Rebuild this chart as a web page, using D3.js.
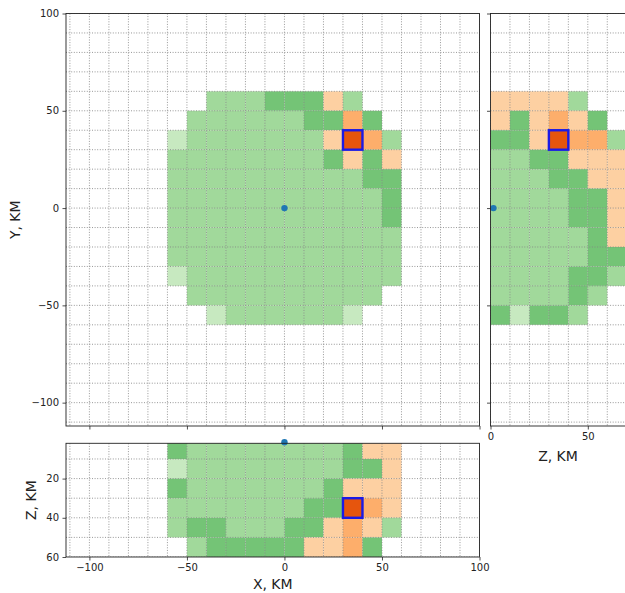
<!DOCTYPE html>
<html>
<head>
<meta charset="utf-8">
<script src="https://cdn.jsdelivr.net/npm/d3@7"></script>
<style>
    body { margin: 0; background: #fff; }
    text { font-family: 'DejaVu Sans', sans-serif; fill: #222; }
</style>
</head>
<body>
<div id="chart"></div>
<script>
// cell classes: 0 empty, 1 pale green, 2 green, 3 dark green, 4 light orange, 5 orange, 6 red orange
const levelColors = ['none', '#c7e9c0', '#a1d99b', '#74c476', '#fdd0a2', '#fdae6b', '#e6550d']

// XY plane, x columns -60..50 (step 10), rows y from 50 down to -60
const xyCols = [-60, -50, -40, -30, -20, -10, 0, 10, 20, 30, 40, 50]
const xyRowsY = [50, 40, 30, 20, 10, 0, -10, -20, -30, -40, -50, -60]
const xyCells = [
    [0, 0, 2, 2, 2, 3, 3, 3, 4, 2, 0, 0],
    [0, 2, 2, 2, 2, 2, 2, 3, 3, 5, 3, 0],
    [1, 2, 2, 2, 2, 2, 2, 2, 4, 6, 5, 2],
    [2, 2, 2, 2, 2, 2, 2, 2, 3, 4, 3, 4],
    [2, 2, 2, 2, 2, 2, 2, 2, 2, 2, 3, 3],
    [2, 2, 2, 2, 2, 2, 2, 2, 2, 2, 2, 3],
    [2, 2, 2, 2, 2, 2, 2, 2, 2, 2, 2, 3],
    [2, 2, 2, 2, 2, 2, 2, 2, 2, 2, 2, 2],
    [2, 2, 2, 2, 2, 2, 2, 2, 2, 2, 2, 2],
    [1, 2, 2, 2, 2, 2, 2, 2, 2, 2, 2, 2],
    [0, 2, 2, 2, 2, 2, 2, 2, 2, 2, 2, 0],
    [0, 0, 1, 2, 2, 2, 2, 2, 2, 1, 0, 0],
]

// ZY plane, z columns 0..60
const zyCols = [0, 10, 20, 30, 40, 50, 60]
const zyCells = [
    [4, 4, 4, 4, 2, 0, 0],
    [4, 3, 4, 5, 4, 3, 0],
    [3, 3, 4, 6, 5, 5, 2],
    [2, 2, 3, 3, 4, 4, 4],
    [2, 2, 2, 3, 3, 4, 4],
    [2, 2, 2, 2, 3, 3, 4],
    [2, 2, 2, 2, 3, 3, 4],
    [2, 2, 2, 2, 2, 3, 4],
    [2, 2, 2, 2, 2, 3, 3],
    [2, 2, 2, 2, 3, 3, 2],
    [2, 2, 2, 2, 3, 2, 0],
    [3, 1, 3, 3, 2, 0, 0],
]

// XZ plane, rows z 0..50
const xzRowsZ = [0, 10, 20, 30, 40, 50]
const xzCells = [
    [3, 2, 2, 2, 2, 2, 2, 2, 2, 3, 4, 4],
    [1, 2, 2, 2, 2, 2, 2, 2, 2, 3, 3, 4],
    [3, 2, 2, 2, 2, 2, 2, 2, 3, 4, 4, 4],
    [2, 2, 2, 2, 2, 2, 2, 3, 3, 6, 5, 4],
    [2, 3, 3, 2, 2, 2, 3, 3, 4, 5, 4, 2],
    [0, 2, 3, 3, 3, 3, 3, 4, 4, 5, 3, 0],
]

const cellSize = 10
const selected = { x: 30, y: 30, z: 30 }
const origin = { x: 0, y: 0, z: 1.5 }

const xTicks = [-100, -50, 0, 50, 100]
const yTicks = [-100, -50, 0, 50, 100]
const zTicksRight = [0, 50]
const zTicksBottom = [20, 40, 60]

const W = 625, H = 593

const svg = d3.select('#chart').append('svg')
    .attr('width', W).attr('height', H)

const x = d3.scaleLinear().domain([-112, 100]).range([66, 479.5])
const y = d3.scaleLinear().domain([100, -112]).range([13.5, 426])
const zR = d3.scaleLinear().domain([0, 70.5]).range([490.5, 627.7])
const zB = d3.scaleLinear().domain([2, 60]).range([443.3, 557])

const makeCells = (cells, cols, rows) => {
    const out = []
    cells.forEach((row, i) => row.forEach((v, j) => {
        if (v > 0) out.push({ c: cols[j], r: rows[i], v: v })
    }))
    return out
}

const panel = (id, sx, sy) => {
    const [x0, x1] = sx.range()
    const [ya, yb] = sy.range()
    const y0 = Math.min(ya, yb), y1 = Math.max(ya, yb)
    svg.append('clipPath').attr('id', id)
        .append('rect').attr('x', x0).attr('y', y0).attr('width', x1 - x0).attr('height', y1 - y0)
    const g = svg.append('g')
    const inner = g.append('g').attr('clip-path', 'url(#' + id + ')')
    return { g, inner, x0, x1, y0, y1 }
}

const drawCells = (p, data, sx, sy, flipY) => {
    p.inner.append('g').selectAll('rect').data(data).join('rect')
        .attr('x', d => sx(d.c))
        .attr('width', d => sx(d.c + cellSize) - sx(d.c))
        .attr('y', d => flipY ? sy(d.r + cellSize) : sy(d.r))
        .attr('height', d => Math.abs(sy(d.r + cellSize) - sy(d.r)))
        .attr('fill', d => levelColors[d.v])
}

const drawGrid = (p, sx, sy, xs, ys) => {
    const g = p.inner.append('g')
        .attr('stroke', '#858585').attr('stroke-width', 0.85)
        .attr('stroke-dasharray', '1,1.6')
    g.selectAll('.vx').data(xs).join('line')
        .attr('x1', d => sx(d)).attr('x2', d => sx(d))
        .attr('y1', p.y0).attr('y2', p.y1)
    g.selectAll('.hy').data(ys).join('line')
        .attr('y1', d => sy(d)).attr('y2', d => sy(d))
        .attr('x1', p.x0).attr('x2', p.x1)
}

const drawBox = (p) => {
    p.g.append('rect')
        .attr('x', p.x0).attr('y', p.y0)
        .attr('width', p.x1 - p.x0).attr('height', p.y1 - p.y0)
        .attr('fill', 'none').attr('stroke', '#222').attr('stroke-width', 0.9)
}

const drawSelected = (p, sx, sy, cx, cy, flipY) => {
    p.inner.append('rect')
        .attr('x', sx(cx)).attr('width', sx(cx + cellSize) - sx(cx))
        .attr('y', flipY ? sy(cy + cellSize) : sy(cy))
        .attr('height', Math.abs(sy(cy + cellSize) - sy(cy)))
        .attr('fill', 'none').attr('stroke', '#1a1ae6').attr('stroke-width', 2.4)
}

const axisStyle = (g, showLabels) => {
    g.select('.domain').remove()
    g.selectAll('.tick line').attr('stroke', '#222').attr('stroke-width', 0.8)
    g.selectAll('.tick text').style('font-size', '10px').attr('fill', '#222')
    if (!showLabels) g.selectAll('.tick text').remove()
}

const gridSteps = (a, b) => d3.range(a, b + 1, 10)

// XY panel
const p1 = panel('c1', x, y)
drawCells(p1, makeCells(xyCells, xyCols, xyRowsY), x, y, true)
drawGrid(p1, x, y, gridSteps(-110, 100), gridSteps(-110, 100))
drawSelected(p1, x, y, selected.x, selected.y, true)
p1.inner.append('circle').attr('cx', x(origin.x)).attr('cy', y(origin.y)).attr('r', 3.2).attr('fill', '#1f77b4')
drawBox(p1)
p1.g.append('g').attr('transform', 'translate(' + p1.x0 + ',0)')
    .call(d3.axisLeft(y).tickValues(yTicks).tickSize(3.5).tickPadding(3.5)).call(g => axisStyle(g, true))
p1.g.append('g').attr('transform', 'translate(0,' + p1.y1 + ')')
    .call(d3.axisBottom(x).tickValues(xTicks).tickSize(3.5)).call(g => axisStyle(g, false))

// ZY panel
const p2 = panel('c2', zR, y)
drawCells(p2, makeCells(zyCells, zyCols, xyRowsY), zR, y, true)
drawGrid(p2, zR, y, gridSteps(0, 70), gridSteps(-110, 100))
drawSelected(p2, zR, y, selected.z, selected.y, true)
p2.g.append('circle').attr('cx', zR(origin.z)).attr('cy', y(origin.y)).attr('r', 3.2).attr('fill', '#1f77b4')
drawBox(p2)
p2.g.append('g').attr('transform', 'translate(' + p2.x0 + ',0)')
    .call(d3.axisLeft(y).tickValues(yTicks).tickSize(3.5)).call(g => axisStyle(g, false))
p2.g.append('g').attr('transform', 'translate(0,' + p2.y1 + ')')
    .call(d3.axisBottom(zR).tickValues(zTicksRight).tickSize(3.5).tickPadding(3.5)).call(g => axisStyle(g, true))

// XZ panel
const p3 = panel('c3', x, zB)
drawCells(p3, makeCells(xzCells, xyCols, xzRowsZ), x, zB, false)
drawGrid(p3, x, zB, gridSteps(-110, 100), gridSteps(10, 60))
drawSelected(p3, x, zB, selected.x, selected.z, false)
p3.g.append('circle').attr('cx', x(origin.x)).attr('cy', zB(origin.z)).attr('r', 3.2).attr('fill', '#1f77b4')
drawBox(p3)
p3.g.append('g').attr('transform', 'translate(' + p3.x0 + ',0)')
    .call(d3.axisLeft(zB).tickValues(zTicksBottom).tickSize(3.5).tickPadding(3.5)).call(g => axisStyle(g, true))
p3.g.append('g').attr('transform', 'translate(0,' + p3.y1 + ')')
    .call(d3.axisBottom(x).tickValues(xTicks).tickSize(3.5).tickPadding(3.5)).call(g => axisStyle(g, true))

// axis titles
const title = (txt, tx, ty, rot) => {
    svg.append('text')
        .attr('transform', 'translate(' + tx + ',' + ty + ')' + (rot ? ' rotate(-90)' : ''))
        .attr('text-anchor', 'middle')
        .style('font-size', '14px')
        .text(txt)
}
title('Y, KM', 20, (p1.y0 + p1.y1) / 2, true)
title('Z, KM', 558, 461, false)
title('X, KM', (p3.x0 + p3.x1) / 2, 589, false)
title('Z, KM', 36, (p3.y0 + p3.y1) / 2, true)
</script>
</body>
</html>
